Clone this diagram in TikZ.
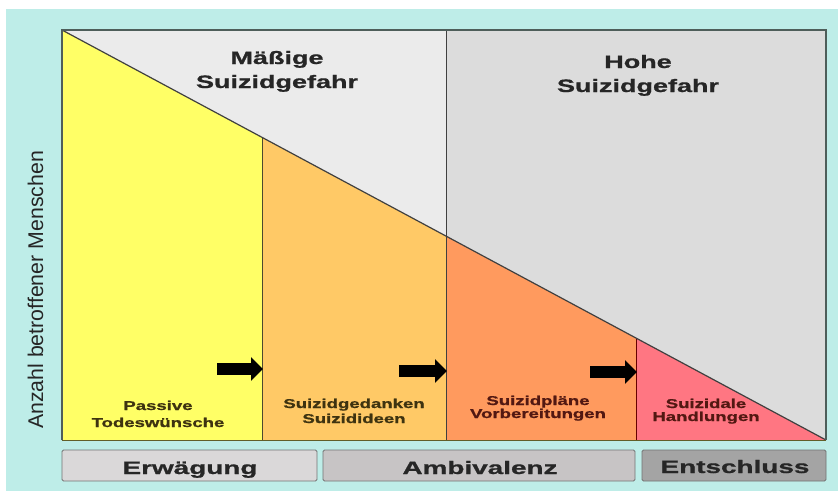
\documentclass[tikz,border=0pt]{standalone}
\usepackage{fontspec}
\setmainfont{Liberation Sans}
\newfontfamily\heavyfont[FakeBold=0.8]{Liberation Sans Bold}
\usetikzlibrary{arrows.meta}
\definecolor{bgcyan}{HTML}{BEEDE8}
\definecolor{lgray}{HTML}{EBEBEB}
\definecolor{mgray}{HTML}{DCDCDC}
\definecolor{cyellow}{HTML}{FFFF66}
\definecolor{csand}{HTML}{FFC966}
\definecolor{corange}{HTML}{FF9A5E}
\definecolor{cpink}{HTML}{FF7682}
\definecolor{frame}{HTML}{4E5E5A}
\definecolor{lblA}{HTML}{3E3310}
\definecolor{lblB}{HTML}{521812}
\definecolor{boxA}{HTML}{DAD8D9}
\definecolor{boxB}{HTML}{C7C4C5}
\definecolor{boxC}{HTML}{A4A4A4}
\tikzset{
  title/.style={font=\heavyfont\fontsize{18}{22}\selectfont, xscale=1.5, anchor=base, inner sep=0pt, text=black!85},
  small/.style={font=\heavyfont\fontsize{12.8}{15}\selectfont, xscale=1.45, anchor=base, inner sep=0pt},
  phase/.style={font=\heavyfont\fontsize{18}{22}\selectfont, xscale=1.55, anchor=base, inner sep=0pt, text=black!85},
  phasebox/.style={draw=black!55, line width=0.9pt, rounded corners=1.5pt},
  blockarrow/.style={line width=12pt, -{Triangle[length=12pt,width=23pt]}, black},
  divider/.style={line width=0.8pt}
}
\begin{document}
\begin{tikzpicture}[x=1pt,y=-1pt]
\useasboundingbox (0,0) rectangle (838,491);
\fill[white] (0,0) rectangle (838,491);
\fill[bgcyan] (6,9) rectangle (838,491);
% key points
\coordinate (TL) at (62,30);
\coordinate (TM) at (446,30);
\coordinate (TR) at (826,30);
\coordinate (BL) at (62,440);
\coordinate (B1) at (262,440);
\coordinate (B2) at (446,440);
\coordinate (B3) at (636,440);
\coordinate (BR) at (826,440);
\coordinate (D1) at (262,137.3);
\coordinate (D2) at (446,236.1);
\coordinate (D3) at (636,338.0);
% regions
\fill[lgray] (TL) -- (TM) -- (D2) -- cycle;
\fill[mgray] (TM) -- (TR) -- (BR) -- (D2) -- cycle;
\fill[cyellow] (TL) -- (D1) -- (B1) -- (BL) -- cycle;
\fill[csand] (D1) -- (D2) -- (B2) -- (B1) -- cycle;
\fill[corange] (D2) -- (D3) -- (B3) -- (B2) -- cycle;
\fill[cpink] (D3) -- (BR) -- (B3) -- cycle;
% lines
\draw[divider, draw=black!60!olive] (D1) -- (B1);
\draw[divider, draw=black!75] (TM) -- (B2);
\draw[divider, draw=black!60!red] (D3) -- (B3);
\draw[line width=1.2pt, draw=black!75] (TL) -- (BR);
\draw[line width=1.2pt, draw=frame] (BL) -- (TL) -- (TR) -- (BR);
\draw[line width=0.8pt, draw=black!40!olive] (BL) -- (BR);
% titles
\node[title] (t1a) at (277,64) {Mäßige};
\node[title] (t1b) at (277,88) {Suizidgefahr};
\node[title] (t2a) at (638,68) {Hohe};
\node[title] (t2b) at (638,92) {Suizidgefahr};
% stage labels
\node[small, text=lblA] (s1a) at (158,410) {Passive};
\node[small, text=lblA] (s1b) at (158,427) {Todeswünsche};
\node[small, text=lblA] (s2a) at (354,408) {Suizidgedanken};
\node[small, text=lblA] (s2b) at (354,423) {Suizidideen};
\node[small, text=lblB] (s3a) at (538,405) {Suizidpläne};
\node[small, text=lblB] (s3b) at (538,418) {Vorbereitungen};
\node[small, text=lblB] (s4a) at (706,408) {Suizidale};
\node[small, text=lblB] (s4b) at (706,421) {Handlungen};
% arrows
\coordinate (a1s) at (217,369);
\coordinate (a1e) at (263,369);
\coordinate (a2s) at (399,371);
\coordinate (a2e) at (447,371);
\coordinate (a3s) at (590,372);
\coordinate (a3e) at (637,372);
\draw[blockarrow] (a1s) -- (a1e);
\draw[blockarrow] (a2s) -- (a2e);
\draw[blockarrow] (a3s) -- (a3e);
% axis label
\node[rotate=90, anchor=base, inner sep=0pt, font=\fontsize{21.3}{25}\selectfont, text=black!85] (ylab) at (43,290) {Anzahl betroffener Menschen};
% phase boxes
\draw[phasebox, fill=boxA] (62,450) rectangle (317,481);
\draw[phasebox, fill=boxB] (323,450) rectangle (635,481);
\draw[phasebox, fill=boxC] (642,450) rectangle (826,481);
\node[phase] (p1) at (190,474) {Erwägung};
\node[phase] (p2) at (480,474) {Ambivalenz};
\node[phase] (p3) at (735,473) {Entschluss};
\end{tikzpicture}
\end{document}
